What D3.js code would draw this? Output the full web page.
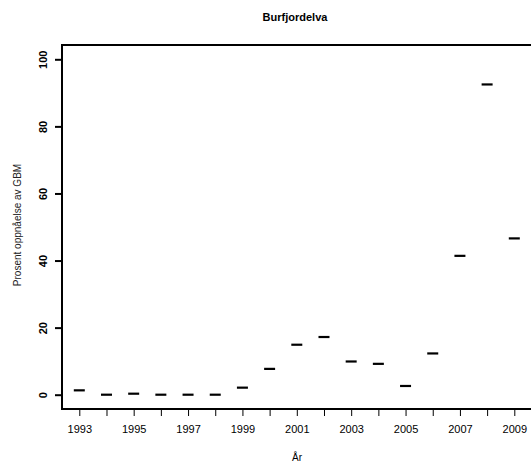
<!DOCTYPE html>
<html>
<head>
<meta charset="utf-8">
<script src="https://cdn.jsdelivr.net/npm/d3@7"></script>
<style>
  body { margin: 0; background: #fff; }
  text { font-family: "Liberation Sans", Arial, sans-serif; }
</style>
</head>
<body>
<svg id="chart" width="531" height="462"></svg>
<script>
const years = [1993, 1994, 1995, 1996, 1997, 1998, 1999, 2000, 2001,
               2002, 2003, 2004, 2005, 2006, 2007, 2008, 2009];
const values = [1.3, 0, 0.3, 0, 0, 0, 2.1, 7.7, 14.9,
                17.2, 9.9, 9.2, 2.6, 12.3, 41.4, 92.5, 46.6];
const yTicks = [0, 20, 40, 60, 80, 100];
const xLabels = [1993, 1995, 1997, 1999, 2001, 2003, 2005, 2007, 2009];

const svg = d3.select("#chart");
const boxLeft = 62, boxTop = 45, boxBottom = 409, boxRight = 535;

const x = d3.scaleLinear().domain([1993, 2009]).range([79.3, 514.3]);
const y = d3.scaleLinear().domain([0, 100]).range([394.7, 59.3]);

// box
svg.append("rect")
  .attr("x", boxLeft).attr("y", boxTop)
  .attr("width", boxRight - boxLeft).attr("height", boxBottom - boxTop)
  .attr("fill", "none").attr("stroke", "#000").attr("stroke-width", 2);

// y axis
const yAxis = svg.append("g")
  .attr("transform", `translate(${boxLeft},0)`)
  .call(d3.axisLeft(y).tickValues(yTicks).tickSize(7).tickPadding(0).tickFormat(d3.format("d")));
yAxis.select(".domain").remove();
yAxis.selectAll(".tick line").attr("stroke-width", 2);
yAxis.selectAll(".tick text")
  .attr("transform", "rotate(-90)")
  .attr("x", 0).attr("y", -19)
  .attr("dy", "0.35em")
  .attr("text-anchor", "middle")
  .attr("font-size", 11).attr("font-weight", "bold")
  .attr("fill", "#000");

// x axis
const xAxis = svg.append("g")
  .attr("transform", `translate(0,${boxBottom})`)
  .call(d3.axisBottom(x).tickValues(years).tickSize(7).tickPadding(9)
    .tickFormat(d => xLabels.includes(d) ? d : ""));
xAxis.select(".domain").remove();
xAxis.selectAll(".tick line").attr("stroke-width", 1);
xAxis.selectAll(".tick text").attr("font-size", 11).attr("fill", "#000");

// marks
svg.append("g")
  .selectAll("line")
  .data(years)
  .join("line")
  .attr("x1", (d) => x(d) - 5.5)
  .attr("x2", (d) => x(d) + 5.5)
  .attr("y1", (d, i) => y(values[i]))
  .attr("y2", (d, i) => y(values[i]))
  .attr("stroke", "#000")
  .attr("stroke-width", 2.2);

// title and labels
svg.append("text")
  .attr("x", 295).attr("y", 21)
  .attr("text-anchor", "middle")
  .attr("font-size", 11).attr("font-weight", "bold")
  .text("Burfjordelva");

svg.append("text")
  .attr("x", 297).attr("y", 461)
  .attr("text-anchor", "middle")
  .attr("font-size", 10)
  .text("År");

svg.append("text")
  .attr("transform", "translate(21,225) rotate(-90)")
  .attr("text-anchor", "middle")
  .attr("font-size", 10)
  .attr("fill", "#222")
  .text("Prosent oppnåelse av GBM");
</script>
</body>
</html>
